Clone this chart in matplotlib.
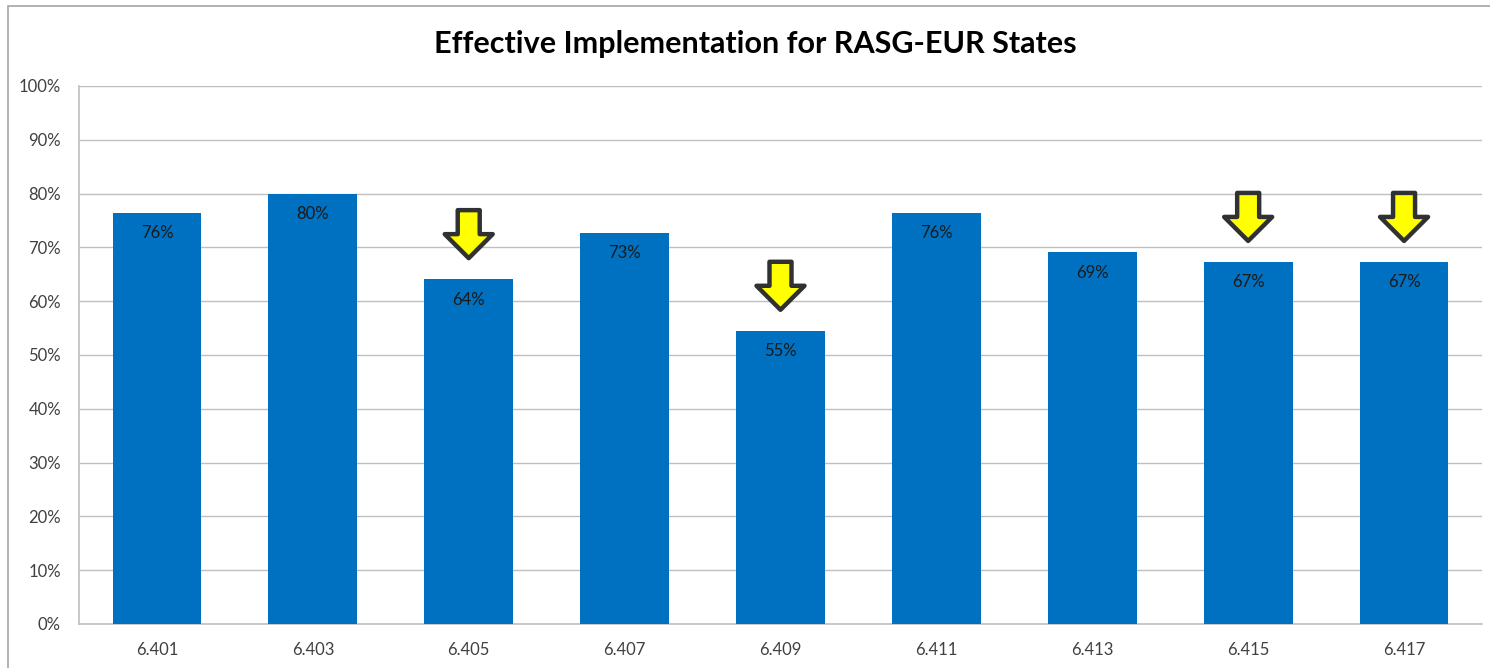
import matplotlib
matplotlib.use("Agg")
import matplotlib.pyplot as plt
import matplotlib.transforms as mtransforms
from matplotlib.patches import Polygon, Rectangle
from matplotlib.ticker import MultipleLocator, FuncFormatter

# ---- data ----
categories = ["6.401", "6.403", "6.405", "6.407", "6.409", "6.411", "6.413", "6.415", "6.417"]
values = [0.764, 0.800, 0.641, 0.727, 0.545, 0.764, 0.691, 0.673, 0.673]
labels = ["76%", "80%", "64%", "73%", "55%", "76%", "69%", "67%", "67%"]
flagged = ["6.405", "6.409", "6.415", "6.417"]
title = "Effective Implementation for RASG-EUR States"

plt.rcParams['font.family'] = ['Lato', 'DejaVu Sans']

W, H, DPI = 1490, 668, 100
fig = plt.figure(figsize=(W / DPI, H / DPI), dpi=DPI)
fig.patch.set_facecolor("white")

# outer chart border (top and left visible; right/bottom run off the canvas)
fig.patches.append(Rectangle((8 / W, -0.05), (W + 20 - 8) / W, (H - 6) / H + 0.05,
                             transform=fig.transFigure, fill=False,
                             edgecolor="#A6A6A6", linewidth=1.2))

ax = fig.add_axes([79 / W, (H - 624) / H, (1482 - 79) / W, (624 - 86) / H])

x = list(range(len(categories)))
bars = ax.bar(x, values, width=0.57, color="#0070C0", zorder=3)

ax.set_ylim(0, 1.0)
ax.set_xlim(-0.5, len(categories) - 0.5)
ax.yaxis.set_major_locator(MultipleLocator(0.1))
ax.yaxis.set_major_formatter(FuncFormatter(lambda v, p: f"{v*100:.0f}%"))
ax.set_xticks(x)
ax.set_xticklabels(categories)
ax.grid(axis="y", color="#BFBFBF", linewidth=1.0, zorder=0)
ax.tick_params(axis="both", length=0, labelsize=12, colors="#404040")
ax.tick_params(axis="x", pad=13)
ax.tick_params(axis="y", pad=13)
for s in ["top", "right"]:
    ax.spines[s].set_visible(False)
for s in ["left", "bottom"]:
    ax.spines[s].set_color("#BFBFBF")
    ax.spines[s].set_linewidth(1.2)

# value labels inside bar tops
for xi, v, lab in zip(x, values, labels):
    ax.annotate(lab, (xi, v), xytext=(0, -9), textcoords="offset points",
                ha="center", va="top", fontsize=12, color="#1a1a1a", zorder=5)

# yellow down arrows above flagged bars (shape in pixels, tip at origin)
arrow_px = [(-11, 48), (11, 48), (11, 24), (24, 24), (0, 0), (-24, 24), (-11, 24)]
arrow_in = [(px / DPI, py / DPI) for px, py in arrow_px]
for xi, cat, v in zip(x, categories, values):
    if cat in flagged:
        trans = fig.dpi_scale_trans + mtransforms.ScaledTranslation(xi, v, ax.transData) \
            + mtransforms.Affine2D().translate(0, 21)
        poly = Polygon(arrow_in, closed=True, facecolor="#FFFF00", edgecolor="#2F3133",
                       linewidth=3.2, joinstyle="round", transform=trans, zorder=6,
                       clip_on=False)
        ax.add_patch(poly)

fig.text(755 / W, (H - 44) / H, title, ha="center", va="center",
         fontsize=22, fontweight="bold", color="#000000")

fig.savefig("out.png", dpi=DPI)
